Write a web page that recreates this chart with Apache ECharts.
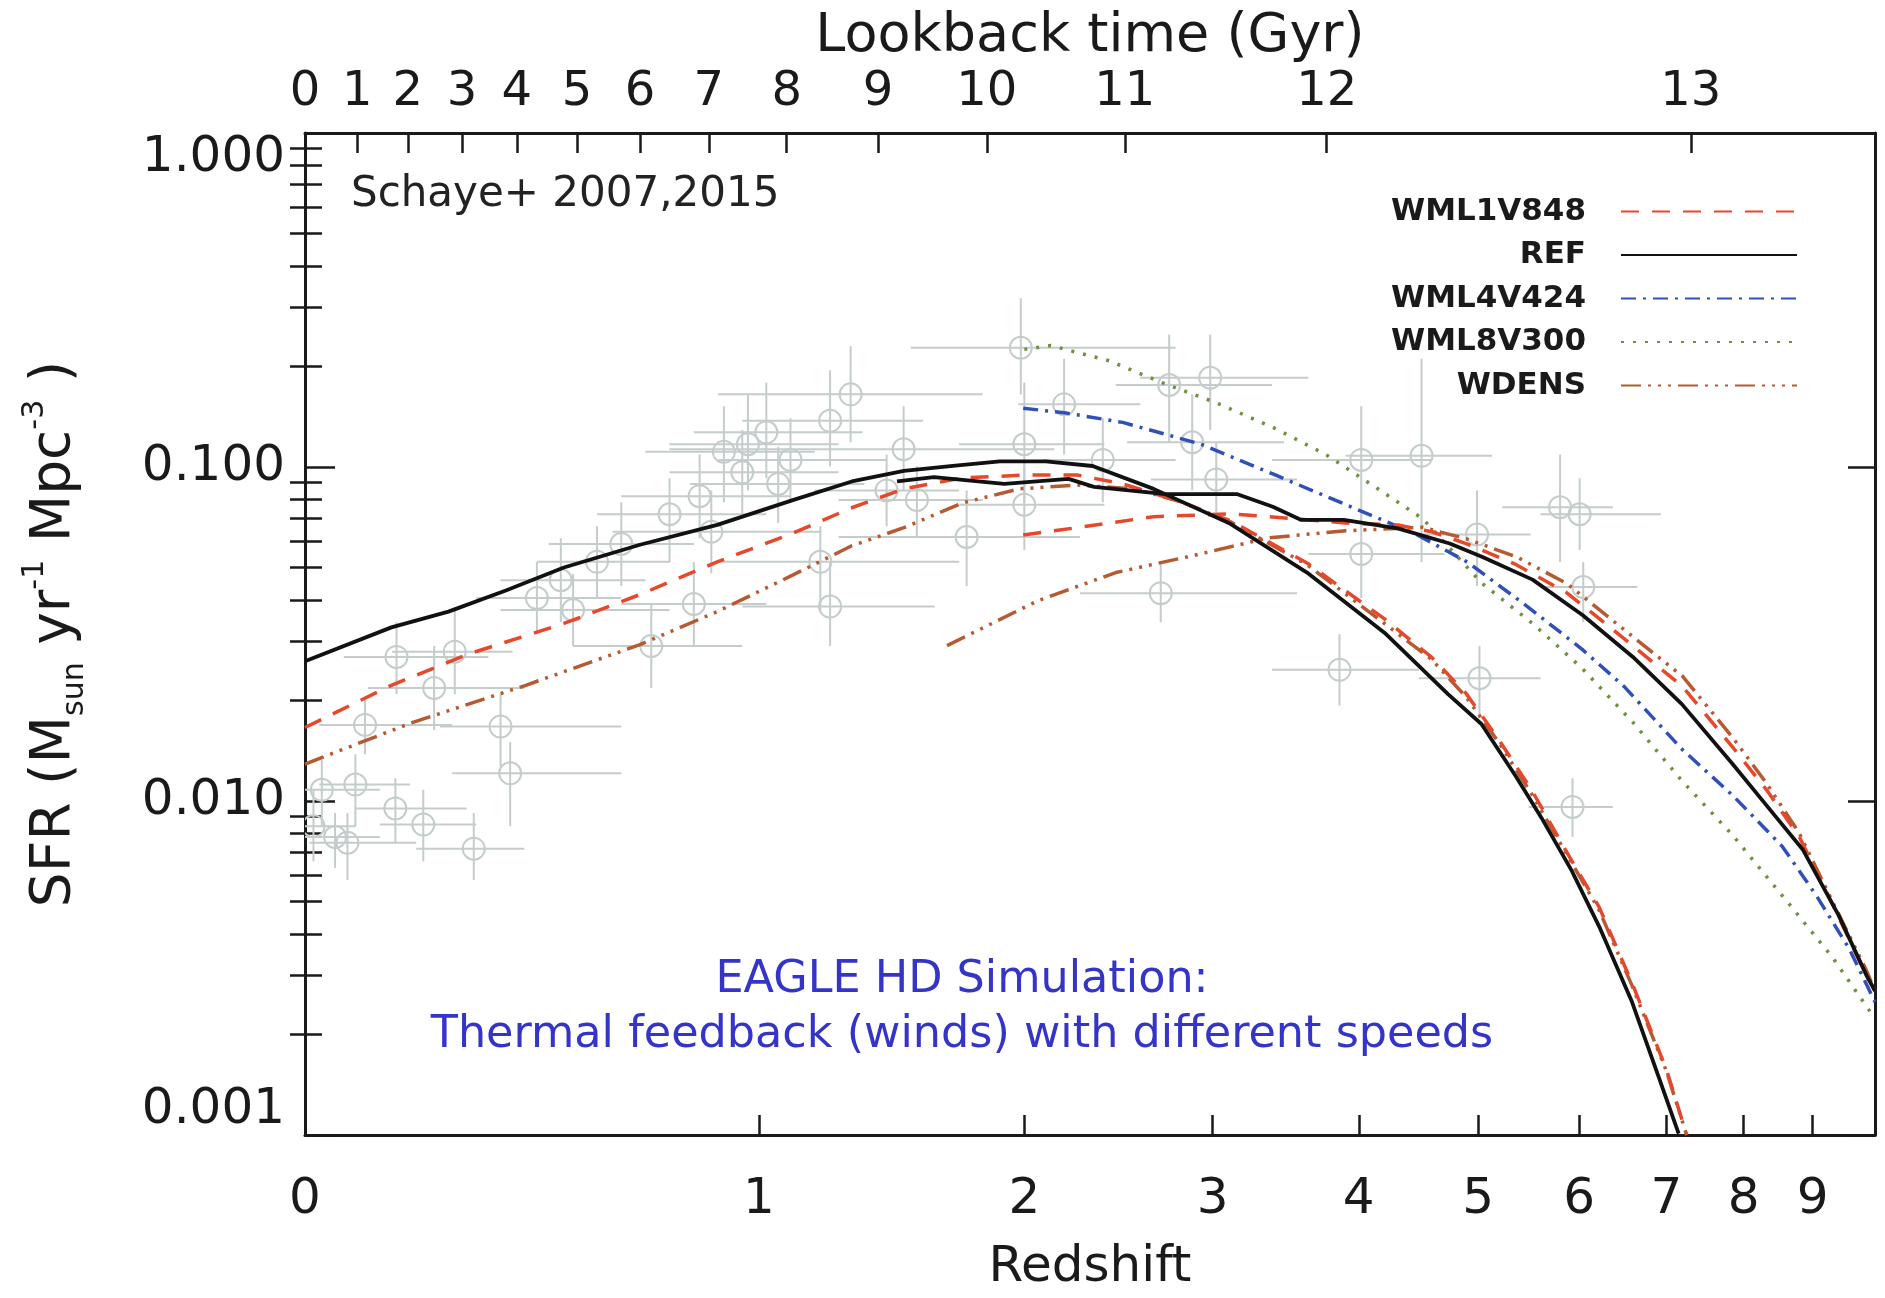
<!DOCTYPE html>
<html><head><meta charset="utf-8">
<script src="https://cdn.jsdelivr.net/npm/echarts@6/dist/echarts.min.js"></script>
<style>html,body{margin:0;padding:0;background:#fff;}#c{width:1885px;height:1298px;}</style>
</head><body><div id="c"></div>
<script>
// ---------- tick labels ----------
const redshiftTicks = [0,1,2,3,4,5,6,7,8,9];
const lookbackLabels = ['0','1','2','3','4','5','6','7','8','9','10','11','12','13'];
const lookbackTickZ = [0,0.083,0.170,0.271,0.382,0.515,0.668,0.853,1.087,1.399,1.833,2.498,3.761,7.302];
const sfrTicks = [0.001,0.01,0.1,1];
const sfrMinorTicks = [0.002,0.003,0.004,0.005,0.006,0.007,0.008,0.009,0.02,0.03,0.04,0.05,0.06,0.07,0.08,0.09,0.2,0.3,0.4,0.5,0.6,0.7,0.8,0.9];
const legendNames = ['WML1V848','REF','WML4V424','WML8V300','WDENS'];

// ---------- simulation curves (redshift, SFR) ----------
const refLargeZ = [0,0.141,0.245,0.359,0.485,0.668,0.877,1.109,1.305,1.496,1.7,1.89,2.1,2.33,2.655,3.11,3.62,4.2,4.73,5.03,5.36,5.61,5.92,6.22,6.59,6.91,7.15];
const refLargeSFR = [0.0262,0.0331,0.0369,0.0427,0.050,0.0585,0.0671,0.0797,0.0905,0.0973,0.101,0.104,0.104,0.1007,0.086,0.0676,0.0483,0.0319,0.0209,0.017,0.0118,0.0089,0.0062,0.0042,0.0025,0.00148,0.00101];
const refSmallZ = [1.47,1.613,1.91,2.21,2.337,2.724,3.15,3.385,3.576,3.887,4.306,4.745,5.04,5.52,6.04,6.6,7.19,7.85,8.32,8.85,9.4,9.86,10];
const refSmallSFR = [0.0905,0.0933,0.089,0.0921,0.0872,0.083,0.083,0.076,0.0695,0.0695,0.0655,0.059,0.0538,0.046,0.036,0.027,0.0195,0.0129,0.0097,0.00716,0.00457,0.0030,0.0027];

const wml1LargeZ = [0,0.141,0.282,0.485,0.668,0.877,1.109,1.305,1.496,1.728,2.0,2.253,2.486,2.8,3.11,3.62,4.2,4.59,4.89,5.19,5.51,5.86,6.22,6.59,7.0,7.25];
const wml1LargeSFR = [0.0166,0.0222,0.0275,0.034,0.0415,0.052,0.0635,0.0755,0.086,0.0927,0.0946,0.0946,0.089,0.079,0.069,0.0516,0.0351,0.0269,0.021,0.0153,0.0108,0.0071,0.0048,0.00285,0.00157,0.001];
const wml1SmallZ = [1.995,2.25,2.655,3.11,3.36,3.9,4.31,4.59,4.89,5.36,5.87,6.41,7.2,7.85,8.32,8.8,9.31,9.86,10];
const wml1SmallSFR = [0.0626,0.0658,0.071,0.0724,0.071,0.068,0.067,0.064,0.059,0.051,0.042,0.032,0.022,0.0145,0.0108,0.0078,0.0049,0.0030,0.0027];

const wml4Z = [1.995,2.2,2.486,2.93,3.385,3.887,4.454,4.9,5.45,6.03,6.5,7.19,7.85,8.55,9.06,9.58,10];
const wml4SFR = [0.150,0.145,0.136,0.117,0.0953,0.0776,0.063,0.052,0.0386,0.0285,0.022,0.0143,0.0104,0.0073,0.0052,0.0036,0.0025];

const wml8Z = [2.0,2.124,2.414,2.724,3.018,3.385,3.754,4.163,4.513,5.03,5.52,6.03,6.6,7.19,7.85,8.55,9.31,10];
const wml8SFR = [0.225,0.231,0.208,0.177,0.156,0.1315,0.109,0.0853,0.070,0.045,0.034,0.025,0.0172,0.0115,0.0079,0.0052,0.0034,0.00223];

const wdensLargeZ = [0,0.175,0.401,0.668,0.877,1.109,1.305,1.496,1.728,1.977,2.25,2.55,2.8,3.11,3.62,4.2,4.59,4.89,5.19,5.51,5.86,6.22,6.59,7.0,7.25];
const wdensLargeSFR = [0.0129,0.0171,0.0222,0.0294,0.0369,0.0476,0.0581,0.0658,0.078,0.086,0.0883,0.086,0.079,0.0685,0.051,0.034,0.0265,0.0205,0.015,0.0105,0.007,0.0047,0.0028,0.00155,0.001];
const wdensSmallZ = [1.666,2.064,2.45,2.875,3.36,3.9,4.51,4.89,5.364,5.87,6.41,7.2,7.85,8.32,8.8,9.31,9.86,10];
const wdensSmallSFR = [0.0292,0.0398,0.0483,0.0542,0.0614,0.0644,0.066,0.061,0.0538,0.0448,0.034,0.0236,0.0155,0.0113,0.008,0.005,0.0031,0.0027];

// ---------- observational compilation (grey points) ----------
const obsZ    = [0.013,0.026,0.047,0.067,0.08,0.096,0.148,0.198,0.294,0.15,0.257,0.348,0.368,0.218,0.425,0.478,0.562,0.621,0.697,0.811,0.745,0.827,0.896,0.967,1.023,1.099,1.23,1.301,1.495,1.23,1.197,1.747,1.984,2.0,2.0,2.188,2.382,2.743,2.985,2.877,3.022,2.695,4.019,4.503,4.019,3.855,4.99,5.8,6.006,6.045,5.012,5.93,0.95,1.431,1.546,0.506,0.86,1.06];
const obsSFR  = [0.0084,0.0108,0.0078,0.0075,0.0112,0.0169,0.0095,0.0085,0.0072,0.027,0.028,0.0167,0.0121,0.0218,0.0405,0.0458,0.052,0.0588,0.0291,0.0389,0.0722,0.0818,0.111,0.117,0.127,0.105,0.1375,0.165,0.113,0.0382,0.052,0.0617,0.2275,0.117,0.0771,0.154,0.105,0.176,0.185,0.1186,0.0918,0.0419,0.105,0.108,0.0549,0.0247,0.0628,0.0758,0.0722,0.0437,0.0233,0.0096,0.0964,0.0851,0.0797,0.0373,0.064,0.089];
const obsZlo  = [0,0,0,0.007,0.022,0.022,0.08,0.121,0.185,0.061,0.142,0.229,0.252,0.101,0.299,0.348,0.425,0.451,0.506,0.621,0.562,0.621,0.682,0.745,0.811,0.879,0.95,0.879,0.745,0.95,0.879,1.259,1.522,1.716,1.716,1.973,2.086,2.45,2.58,2.51,2.64,2.266,3.38,3.9,3.63,3.38,4.48,5.225,5.6,5.6,4.48,5.48,0.745,1.178,1.259,0.348,0.6,0.8];
const obsZhi  = [0.08,0.121,0.121,0.185,0.174,0.252,0.28,0.299,0.398,0.323,0.373,0.621,0.621,0.398,0.621,0.682,0.745,0.811,0.95,1.023,1.023,1.099,1.178,1.259,1.343,1.431,1.57,1.815,2.14,1.616,1.716,2.266,2.78,2.39,2.39,2.581,2.78,3.38,3.63,3.46,3.55,3.55,4.59,5.13,4.7,4.48,5.5,6.37,6.93,6.65,5.6,6.37,1.259,1.716,1.815,0.745,1.2,1.35];
const obsSFRlo= [0.0066,0.0084,0.0063,0.0058,0.0084,0.0138,0.0075,0.0066,0.0058,0.0209,0.0209,0.0127,0.0084,0.0163,0.0316,0.0343,0.0405,0.044,0.0218,0.0291,0.0519,0.0612,0.0784,0.0851,0.0925,0.0784,0.1005,0.1186,0.0851,0.0291,0.0373,0.044,0.165,0.0784,0.0564,0.109,0.0784,0.1186,0.129,0.0851,0.0722,0.0343,0.0665,0.0519,0.0405,0.0193,0.044,0.0519,0.0564,0.0343,0.0177,0.0078,0.0722,0.0665,0.0612,0.0291,0.048,0.068];
const obsSFRhi= [0.0108,0.0133,0.0092,0.0092,0.0138,0.0201,0.0117,0.0108,0.0092,0.0343,0.0373,0.0209,0.015,0.0291,0.0519,0.0612,0.0665,0.0784,0.0389,0.0519,0.0925,0.109,0.152,0.165,0.179,0.14,0.195,0.23,0.152,0.0519,0.0665,0.0851,0.32,0.179,0.1005,0.211,0.14,0.249,0.249,0.165,0.1186,0.0519,0.152,0.211,0.0722,0.0316,0.0851,0.109,0.0925,0.0519,0.0291,0.0117,0.129,0.109,0.1005,0.0478,0.085,0.115];

// ---------- helpers ----------
const lx = z => Math.log10(1 + z);
const ly = s => Math.log10(s);
const pts = (zs, ss) => zs.map((z, i) => [lx(z), ly(ss[i])]);
const F = "'DejaVu Sans', sans-serif";
const INK = '#1a1a1a';
const XMAX = Math.log10(11);

const styles = {
  'WML1V848': {color:'#e5482a', width:3.5, type:[18,13]},
  'REF':      {color:'#111111', width:3.8, type:'solid'},
  'WML4V424': {color:'#3050b8', width:3.5, type:[15,7,3,7]},
  'WML8V300': {color:'#6f8f45', width:3.5, type:[3,9]},
  'WDENS':    {color:'#b65a32', width:3.5, type:[20,7,3,7,3,7,3,7]}
};
function lineSeries(name, zs, ss) {
  const s = styles[name];
  return {
    type:'line', name, data: pts(zs, ss), symbol:'none', showSymbol:false,
    smooth:false, color:s.color, z:3,
    lineStyle:{color:s.color, width:s.width, type:s.type, join:'round', cap:'butt'}, silent:true
  };
}

const obsData = obsZ.map((z, i) => [lx(z), ly(obsSFR[i]), lx(obsZlo[i]), lx(obsZhi[i]), ly(obsSFRlo[i]), ly(obsSFRhi[i])]);
const GREY = '#c4cccc';

const chart = echarts.init(document.getElementById('c'), null, {renderer:'canvas'});
const axisLineStyle = {color: INK, width: 3};

chart.setOption({
  backgroundColor:'#ffffff',
  animation:false,
  grid:{left:305, right:10, top:133, bottom:159, containLabel:false},
  legend:{
    data: legendNames, orient:'vertical', align:'right', right:82, top:191,
    itemWidth:176, itemHeight:14, itemGap:12.5, selectedMode:false,
    itemStyle:{opacity:0, borderWidth:0},
    textStyle:{fontSize:31, fontWeight:'bold', color:INK, fontFamily:F, padding:[0,30,0,0]}
  },
  xAxis:[
    { type:'value', position:'bottom', min:0, max:XMAX,
      axisLine:{show:true, onZero:false, lineStyle:axisLineStyle},
      axisTick:{show:true, inside:true, length:20, customValues: redshiftTicks.map(lx), lineStyle:{color:INK, width:2.5}},
      axisLabel:{show:true, customValues: redshiftTicks.map(lx), formatter: v => String(Math.round(Math.pow(10, v) - 1)),
                 fontSize:50, color:INK, fontFamily:F, margin:40},
      splitLine:{show:false},
      name:'Redshift', nameLocation:'middle', nameGap:108,
      nameTextStyle:{fontSize:50, color:INK, fontFamily:F}
    },
    { type:'value', position:'top', min:0, max:XMAX,
      axisLine:{show:true, onZero:false, lineStyle:axisLineStyle},
      axisTick:{show:true, inside:true, length:20, customValues: lookbackTickZ.map(lx), lineStyle:{color:INK, width:2.5}},
      axisLabel:{show:true, customValues: lookbackTickZ.map(lx), fontSize:48, color:INK, fontFamily:F, margin:16,
                 formatter: v => { let best = 0, d = 1e9; lookbackTickZ.forEach((z, i) => { const dd = Math.abs(lx(z) - v); if (dd < d) { d = dd; best = i; } }); return lookbackLabels[best]; }},
      splitLine:{show:false},
      name:'Lookback time (Gyr)', nameLocation:'middle', nameGap:64,
      nameTextStyle:{fontSize:54, color:INK, fontFamily:F}
    }
  ],
  yAxis:[
    { type:'value', position:'left', min:-3, max:0,
      axisLine:{show:true, onZero:false, lineStyle:axisLineStyle},
      axisTick:{show:true, inside:true, length:30, customValues: sfrTicks.map(ly), lineStyle:{color:INK, width:2.5}},
      axisLabel:{show:true, customValues: sfrTicks.map(ly), formatter: v => Math.pow(10, v).toFixed(3),
                 fontSize:50, color:INK, fontFamily:F, margin:20,
                 verticalAlignMaxLabel:'top', verticalAlignMinLabel:'bottom'},
      splitLine:{show:false},
      name:'{a|SFR (M}{b|sun}{a| yr}{c|-1}{a| Mpc}{c|-3}{a| )}',
      nameLocation:'middle', nameGap:215, nameRotate:90,
      nameTextStyle:{color:INK, fontFamily:F, rich:{
        a:{fontSize:55, lineHeight:70, fontFamily:F, color:INK},
        b:{fontSize:30, lineHeight:32, verticalAlign:'bottom', fontFamily:F, color:INK},
        c:{fontSize:30, lineHeight:32, verticalAlign:'top', fontFamily:F, color:INK}
      }}
    },
    { type:'value', position:'left', min:-3, max:0,
      axisLine:{show:false}, axisLabel:{show:false}, splitLine:{show:false},
      axisTick:{show:true, inside:true, length:17, customValues: sfrMinorTicks.map(ly), lineStyle:{color:INK, width:2.5}}
    },
    { type:'value', position:'right', min:-3, max:0,
      axisLine:{show:true, onZero:false, lineStyle:axisLineStyle}, axisLabel:{show:false}, splitLine:{show:false},
      axisTick:{show:true, inside:true, length:27, customValues: sfrTicks.map(ly), lineStyle:{color:INK, width:2.5}}
    },
    { type:'value', position:'right', min:-3, max:0,
      axisLine:{show:false}, axisLabel:{show:false}, splitLine:{show:false},
      axisTick:{show:true, inside:true, length:15, customValues: sfrMinorTicks.map(ly), lineStyle:{color:INK, width:2.5}}
    }
  ],
  graphic:[
    {type:'text', left:351, top:174, silent:true,
     style:{text:'Schaye+ 2007,2015', fontSize:42, fontFamily:F, fill:'#222'}},
    {type:'text', x:962, y:980, silent:true,
     style:{text:'EAGLE HD Simulation:', fontSize:44.5, fontFamily:F, fill:'#3434c8', align:'center', verticalAlign:'middle'}},
    {type:'text', x:962, y:1035, silent:true,
     style:{text:'Thermal feedback (winds) with different speeds', fontSize:44.5, fontFamily:F, fill:'#3434c8', align:'center', verticalAlign:'middle'}}
  ],
  series:[
    { type:'custom', name:'observations', silent:true, clip:true, z:1,
      data: obsData, encode:{x:[0,2,3], y:[1,4,5]},
      renderItem(params, api) {
        const c = api.coord([api.value(0), api.value(1)]);
        const l = api.coord([api.value(2), api.value(1)]);
        const r = api.coord([api.value(3), api.value(1)]);
        const t = api.coord([api.value(0), api.value(5)]);
        const b = api.coord([api.value(0), api.value(4)]);
        const st = {stroke:GREY, lineWidth:2, fill:null};
        return {type:'group', children:[
          {type:'line', shape:{x1:l[0], y1:l[1], x2:r[0], y2:r[1]}, style:st},
          {type:'line', shape:{x1:t[0], y1:t[1], x2:b[0], y2:b[1]}, style:st},
          {type:'circle', shape:{cx:c[0], cy:c[1], r:11}, style:{stroke:GREY, lineWidth:2, fill:'rgba(255,255,255,0)'}}
        ]};
      }
    },
    lineSeries('WML8V300', wml8Z, wml8SFR),
    lineSeries('WML4V424', wml4Z, wml4SFR),
    lineSeries('WDENS', wdensLargeZ, wdensLargeSFR),
    lineSeries('WDENS', wdensSmallZ, wdensSmallSFR),
    lineSeries('WML1V848', wml1LargeZ, wml1LargeSFR),
    lineSeries('WML1V848', wml1SmallZ, wml1SmallSFR),
    lineSeries('REF', refLargeZ, refLargeSFR),
    lineSeries('REF', refSmallZ, refSmallSFR)
  ]
});
</script>
</body></html>
